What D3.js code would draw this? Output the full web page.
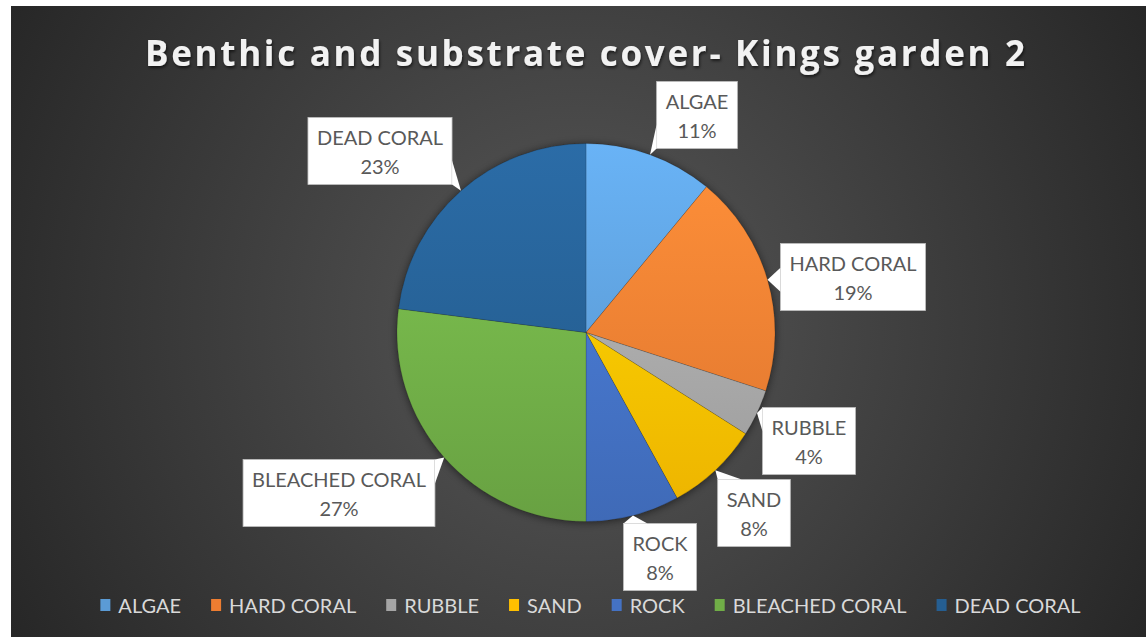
<!DOCTYPE html>
<html>
<head>
<meta charset="utf-8">
<script src="https://cdn.jsdelivr.net/npm/d3@7"></script>
<style>
  html, body { margin: 0; padding: 0; background: #fff; }
  svg { display: block; }
</style>
</head>
<body>
<svg id="chart" width="1146" height="637"></svg>
<script>
// chart data
var title = 'Benthic and substrate cover- Kings garden 2';
var categories = ['ALGAE', 'HARD CORAL', 'RUBBLE', 'SAND', 'ROCK', 'BLEACHED CORAL', 'DEAD CORAL'];
var values = [11, 19, 4, 8, 8, 27, 23];
var colors = ['#5B9BD5', '#ED7D31', '#A5A5A5', '#FFC000', '#4472C4', '#70AD47', '#255E91'];

// where the callout boxes sit (layout only)
var boxCenters = [[697, 115], [853, 277], [809, 441], [754, 513], [660, 557], [339, 493], [380, 151]];

var W = 1146, H = 637;
var cx = 586, cy = 332.5, R = 189;
var font = 'Lato, "Open Sans", sans-serif';

var svg = d3.select('#chart');
var defs = svg.append('defs');

// background
var bg = defs.append('radialGradient')
	.attr('id', 'bg')
	.attr('gradientUnits', 'userSpaceOnUse')
	.attr('cx', 578).attr('cy', 320).attr('r', 660);
bg.append('stop').attr('offset', 0).attr('stop-color', '#585858');
bg.append('stop').attr('offset', 1).attr('stop-color', '#262626');

svg.append('rect')
	.attr('x', 11).attr('y', 6)
	.attr('width', W - 11).attr('height', H - 6)
	.attr('fill', 'url(#bg)');

var shadow = defs.append('filter').attr('id', 'pieShadow')
	.attr('x', '-20%').attr('y', '-20%').attr('width', '140%').attr('height', '140%');
shadow.append('feDropShadow')
	.attr('dx', 0).attr('dy', 1).attr('stdDeviation', 4)
	.attr('flood-color', '#000').attr('flood-opacity', 0.55);

var tshadow = defs.append('filter').attr('id', 'titleShadow');
tshadow.append('feDropShadow')
	.attr('dx', 1).attr('dy', 2).attr('stdDeviation', 1.5)
	.attr('flood-color', '#000').attr('flood-opacity', 0.6);

// slice gradients, light on top, darker below (group is centred on the pie)
colors.forEach(function(c, i){
	var g = defs.append('linearGradient')
		.attr('id', 'sl' + i)
		.attr('gradientUnits', 'userSpaceOnUse')
		.attr('x1', 0).attr('y1', -R).attr('x2', 0).attr('y2', R);
	g.append('stop').attr('offset', 0).attr('stop-color', d3.color(c).brighter(0.4));
	g.append('stop').attr('offset', 1).attr('stop-color', d3.color(c).darker(0.2));
});

// title
svg.append('text')
	.attr('x', 585).attr('y', 66)
	.attr('text-anchor', 'middle')
	.attr('textLength', 880)
	.attr('lengthAdjust', 'spacing')
	.style('font-family', '"Open Sans", Lato, sans-serif')
	.style('font-weight', 'bold')
	.style('font-size', '35px')
	.style('fill', '#f2f2f2')
	.attr('filter', 'url(#titleShadow)')
	.text(title);

// pie
var data = categories.map(function(c, i){ return {name: c, value: values[i], i: i}; });
var pie = d3.pie().sort(null).value(function(d){ return d.value; });
var arcs = pie(data);
var arc = d3.arc().innerRadius(0).outerRadius(R);

var g = svg.append('g').attr('transform', 'translate(' + cx + ',' + cy + ')');
g.append('circle').attr('r', R).attr('fill', '#333').attr('filter', 'url(#pieShadow)');
g.selectAll('path.slice')
	.data(arcs)
	.enter()
	.append('path')
	.attr('class', 'slice')
	.attr('d', arc)
	.attr('fill', function(d){ return 'url(#sl' + d.data.i + ')'; })
	.attr('stroke', 'rgba(0,0,0,0.18)')
	.attr('stroke-width', 0.8);

// callouts
var total = d3.sum(values);
var lab = svg.append('g');
var measure = svg.append('text').style('font-family', font).style('font-size', '20px');

arcs.forEach(function(a, i){
	var mid = (a.startAngle + a.endAngle) / 2;
	var tip = [cx + R * Math.sin(mid), cy - R * Math.cos(mid)];
	var line1 = a.data.name;
	var line2 = Math.round(a.data.value / total * 100) + '%';
	measure.text(line1);
	var tw = Math.max(measure.node().getComputedTextLength(), 30);
	var bw = tw + 18, bh = 67;
	var bx = boxCenters[i][0] - bw / 2, by = boxCenters[i][1] - bh / 2;

	// tail base on the box side facing the tip
	var dxo = tip[0] < bx ? bx - tip[0] : (tip[0] > bx + bw ? tip[0] - bx - bw : 0);
	var dyo = tip[1] < by ? by - tip[1] : (tip[1] > by + bh ? tip[1] - by - bh : 0);
	var half = 12, p1, p2;
	if (dyo >= dxo) {
		var ey = tip[1] < by ? by : by + bh;
		var mx = Math.max(bx + half, Math.min(bx + bw - half, tip[0]));
		p1 = [mx - half, ey]; p2 = [mx + half, ey];
	} else {
		var ex = tip[0] < bx ? bx : bx + bw;
		var my = Math.max(by + half, Math.min(by + bh - half, tip[1]));
		p1 = [ex, my - half]; p2 = [ex, my + half];
	}

	lab.append('rect')
		.attr('x', bx).attr('y', by)
		.attr('width', bw).attr('height', bh)
		.attr('fill', '#fff')
		.attr('stroke', '#bfbfbf')
		.attr('stroke-width', 0.8);
	lab.append('path')
		.attr('d', 'M' + p1 + 'L' + tip + 'L' + p2 + 'Z')
		.attr('fill', '#fff');

	lab.append('text')
		.attr('x', bx + bw / 2).attr('y', by + bh / 2 - 6)
		.attr('text-anchor', 'middle')
		.style('font-family', font).style('font-size', '20px')
		.style('fill', '#595959')
		.text(line1);
	lab.append('text')
		.attr('x', bx + bw / 2).attr('y', by + bh / 2 + 23)
		.attr('text-anchor', 'middle')
		.style('font-family', font).style('font-size', '20px')
		.style('fill', '#595959')
		.text(line2);
});

// legend
var widths = categories.map(function(c){
	measure.text(c);
	return measure.node().getComputedTextLength();
});
measure.remove();

var sq = 10, gapText = 8, gapItem = 30;
var totalW = d3.sum(widths) + categories.length * (sq + gapText) + (categories.length - 1) * gapItem;
var lx = 590.5 - totalW / 2;
var legend = svg.append('g');
categories.forEach(function(c, i){
	legend.append('rect')
		.attr('x', lx).attr('y', 599)
		.attr('width', sq).attr('height', 12)
		.attr('fill', colors[i]);
	legend.append('text')
		.attr('x', lx + sq + gapText).attr('y', 613)
		.style('font-family', font).style('font-size', '20px')
		.style('fill', '#d9d9d9')
		.text(c);
	lx += sq + gapText + widths[i] + gapItem;
});
</script>
</body>
</html>
